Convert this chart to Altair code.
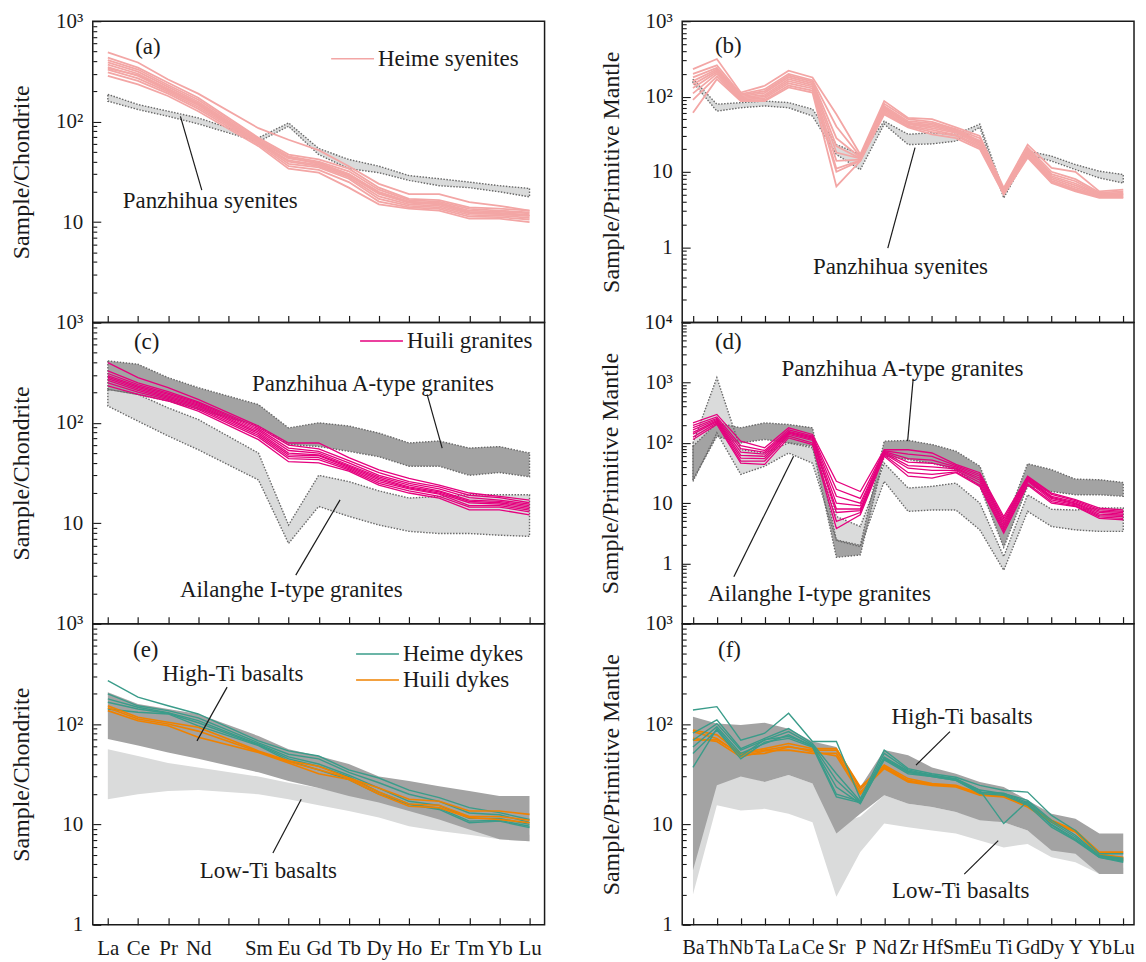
import altair as alt
import pandas as pd

FONT = "'Liberation Serif', 'Times New Roman', 'DejaVu Serif', serif"
INK = "#1a1a1a"

REE_AXIS = ["La", "Ce", "Pr", "Nd", "Pm", "Sm", "Eu", "Gd", "Tb", "Dy", "Ho", "Er", "Tm", "Yb", "Lu"]
REE = ["La", "Ce", "Pr", "Nd", "Sm", "Eu", "Gd", "Tb", "Dy", "Ho", "Er", "Tm", "Yb", "Lu"]
TE = ["Ba", "Th", "Nb", "Ta", "La", "Ce", "Sr", "P", "Nd", "Zr", "Hf", "Sm", "Eu", "Ti", "Gd", "Dy", "Y", "Yb", "Lu"]

PINK = "#F3A6A5"
MAGENTA = "#E5007E"
TEAL = "#3A9C8A"
ORANGE = "#EF8200"
DARK = "#A3A3A3"
LIGHT = "#DADBDB"

# ---------------- (a) chondrite-normalised, Heime syenites ----------------
A_HEIME = [
    [489, 388, 263, 190, 86, 66, 52, 36, 24, 19, 19, 15.8, 14.5, 13],
    [435, 345, 244, 173, 69, 47, 42, 34, 22, 17, 16.5, 14, 13.6, 13],
    [410, 330, 232, 165, 67, 45, 40, 32, 21, 16.5, 16, 13.5, 13, 12.5],
    [390, 315, 222, 158, 65, 43, 39, 30, 20, 16, 15.5, 13, 12.7, 12.2],
    [370, 300, 212, 152, 63, 41, 37, 29, 19, 15.5, 15, 12.6, 12.3, 11.8],
    [350, 285, 205, 146, 62, 40, 36, 28, 18, 15, 14.5, 12.2, 12, 11.5],
    [340, 290, 210, 150, 64, 44, 38, 30, 19.5, 15.8, 15.2, 12.5, 12, 11.5],
    [330, 270, 198, 140, 61, 38, 35, 27, 17, 14.5, 14, 11.8, 11.6, 11],
    [310, 255, 190, 134, 59, 36, 33, 25, 16, 14, 13.5, 11.3, 11.2, 10.6],
    [285, 235, 180, 127, 57, 34, 31, 22, 15, 13.6, 13, 10.8, 10.8, 10],
]
A_PZH_UP = [187, 148, 127, 109, 69, 97, 54, 42, 36, 29, 27, 25, 23, 21.6]
A_PZH_LO = [160, 132, 113, 95, 63, 90, 47, 34, 31, 26, 23, 22, 20, 17.8]

# ---------------- (b) primitive-mantle-normalised, Heime syenites ----------------
B_HEIME = [
    [231, 315, 113, 139, 220, 179, 58, 17, 87, 52, 50, 39, 30, 6.1, 23, 11.3, 10, 5.5, 5.8],
    [200, 260, 108, 125, 200, 165, 40, 16, 80, 50, 46, 37, 28, 5.8, 21, 10, 8, 5.3, 5.5],
    [180, 240, 104, 118, 190, 158, 28, 15.5, 75, 47, 44, 36, 26, 5.6, 20, 9.3, 7.5, 5.1, 5.3],
    [160, 230, 100, 112, 180, 150, 22, 15, 72, 45, 42, 35, 25, 5.5, 19, 8.8, 7, 5, 5.1],
    [145, 220, 97, 105, 170, 142, 18, 15, 70, 44, 40, 34, 24, 5.4, 18, 8.4, 6.6, 4.9, 5],
    [130, 210, 94, 100, 160, 135, 14, 14.5, 67, 43, 38, 33, 23, 5.3, 17, 8, 6.2, 4.8, 4.9],
    [110, 200, 91, 95, 150, 128, 11, 14.2, 64, 41, 36, 31, 22, 5.2, 16.5, 7.6, 5.9, 4.7, 4.7],
    [90, 185, 89, 90, 140, 120, 10, 14, 61, 40, 34, 30, 21, 5.1, 16, 7.3, 5.7, 4.6, 4.6],
    [61, 170, 87, 87, 132, 113, 6.4, 13.9, 58, 39, 31.5, 28, 20, 5, 15.4, 7.1, 5.5, 4.5, 4.5],
]
B_PZH_UP = [170, 79, 83, 87, 83, 68, 23, 17, 47, 31.5, 33, 31.5, 43, 5.5, 18.9, 16.2, 12.5, 10.2, 9.2]
B_PZH_LO = [154, 64, 71, 75, 71, 55, 17, 10.7, 43, 23, 23.5, 25.6, 39, 4.5, 17, 13.9, 10.7, 8.3, 7.1]

# ---------------- (c) Huili granites, chondrite ----------------
C_HUILI = [
    [398, 282, 224, 171, 93, 63, 63, 45, 34, 28, 24, 20, 18.5, 17],
    [330, 250, 205, 162, 90, 60, 55, 42, 32, 26, 23, 19, 18, 16],
    [310, 240, 198, 158, 87, 56, 52, 40, 30, 25, 22, 18, 17, 15.5],
    [295, 232, 192, 154, 84, 53, 50, 38, 29, 24, 21, 17, 16.5, 15],
    [285, 225, 186, 150, 81, 50, 48, 37, 28, 23, 20.5, 16.5, 16, 14.5],
    [275, 218, 180, 146, 78, 48, 47, 36, 27, 22.5, 20, 16, 15.5, 14],
    [265, 210, 175, 141, 75, 46, 45, 35, 26, 22, 19.5, 15, 15, 13.5],
    [250, 202, 170, 136, 72, 44, 43, 34, 25, 21, 18.5, 14.5, 14.5, 13],
    [233, 192, 165, 131, 68, 41, 40, 33, 24, 20, 17.8, 13.6, 13.6, 12.1],
]
C_PZA_UP = [414, 383, 282, 224, 152, 89, 100, 93, 79, 63, 66, 56, 58, 50]
C_PZA_LO = [215, 192, 165, 136, 93, 61, 58, 52, 46, 37, 37, 30, 32, 29]
C_AIL_UP = [215, 192, 141, 108, 50, 9.6, 30, 26, 21, 17.8, 18.5, 19.2, 19.2, 19.2]
C_AIL_LO = [147, 104, 74, 54, 27, 6.3, 14.7, 11.7, 9.6, 8.3, 7.9, 7.9, 7.6, 7.4]

# ---------------- (d) Huili granites, primitive mantle ----------------
D_HUILI = [
    [215, 297, 107, 83, 178, 138, 23, 15.6, 77, 77, 68, 44, 32, 6, 28, 14.7, 11.4, 8.3, 7.7],
    [195, 270, 90, 75, 165, 130, 17, 12, 74, 65, 60, 42, 30, 5.5, 27, 14, 11, 7.8, 7.3],
    [180, 255, 80, 70, 155, 125, 13, 10, 72, 55, 52, 40, 28, 5, 26, 13, 10.5, 7.4, 7],
    [165, 245, 70, 65, 150, 120, 10, 9, 70, 48, 46, 38, 26, 4.6, 25, 12.5, 10, 7, 6.6],
    [150, 235, 62, 60, 145, 115, 8, 8, 68, 42, 40, 37, 24, 4.2, 24, 12, 9.7, 6.6, 6.3],
    [140, 225, 56, 55, 138, 110, 7, 7.5, 66, 38, 35, 35, 22, 3.8, 23, 11.3, 9.4, 6.2, 6],
    [125, 215, 50, 50, 130, 100, 5, 7, 63, 32, 30, 33, 20, 3.5, 21, 10.6, 9, 5.9, 5.6],
    [114, 202, 46, 44, 121, 94, 3.8, 6.4, 60, 28, 26, 32, 19, 3.2, 20, 10, 8.8, 5.6, 5.3],
]
D_PZA_UP = [88, 215, 178, 215, 202, 178, 2.45, 2.0, 107, 110, 94, 73, 41, 4.1, 45, 36, 25, 24.5, 22]
D_PZA_LO = [24.5, 129, 100, 114, 100, 88, 1.26, 1.38, 60, 53, 46, 36, 19, 1.85, 19, 15.6, 13.8, 13.8, 13]
D_AIL_UP = [100, 1212, 77, 68, 100, 83, 6, 4.1, 46, 17.8, 19, 21.5, 10, 1.3, 13.8, 7.9, 7.7, 8.3, 8.3]
D_AIL_LO = [23, 147, 30, 41, 68, 46, 2.4, 1.9, 23, 7.3, 7.7, 7.7, 3.6, 0.77, 7.3, 4.1, 3.6, 3.4, 3.4]

# ---------------- (e) dykes, chondrite ----------------
E_HEIME = [
    [271, 185, 152, 126, 68, 54, 48, 35, 29, 22, 18.5, 14.7, 13.1, 11.2],
    [200, 152, 136, 115, 65, 50, 45, 33, 26, 20, 17, 13, 12.5, 10.5],
    [178, 147, 130, 108, 63, 47, 40, 31, 23, 17, 15.5, 11.5, 11.5, 10],
    [165, 141, 128, 103, 62, 45, 38, 30, 21, 16, 14.5, 10.8, 11, 9.6],
    [141, 131, 126, 96, 61, 43, 35, 28, 20, 15.8, 14.1, 10.4, 10.8, 9.3],
]
E_HUILI = [
    [152, 117, 104, 93, 54, 43, 38, 29, 23, 17.8, 17, 13.6, 13.6, 12.6],
    [145, 112, 100, 85, 53, 42, 35, 29, 21, 16, 15.5, 12, 12, 11],
    [136, 108, 96, 74, 52, 41, 32, 28, 20, 15.2, 14.7, 11.7, 11.2, 10.4],
]
E_HIGH_UP = [207, 158, 141, 126, 76, 56, 48, 40, 30, 27, 24, 21.5, 19.2, 19.2]
E_HIGH_LO = [71, 61, 52, 45, 33, 27, 23, 19.2, 16.5, 13.6, 11.2, 8.9, 7.1, 6.8]
E_LOW_UP = [56, 48, 41, 37, 30, 26, 23, 20, 17, 14.7, 12.1, 10.4, 8.3, 7.9]
E_LOW_LO = [17.8, 20, 21.5, 22, 20, 17.8, 15.5, 13.6, 11.7, 9.6, 8.6, 7.9, 7.1, 6.8]

# ---------------- (f) dykes, primitive mantle ----------------
F_HEIME = [
    [138, 149, 69, 81, 128, 67, 67, 18, 55, 36, 32, 29.5, 24.5, 21.9, 21, 12.3, 8.7, 5.1, 5.1],
    [81, 110, 57, 72, 90, 64, 32, 17, 51, 35, 31, 28.5, 22, 20.3, 17.4, 11, 7.8, 4.9, 4.6],
    [69, 101, 55, 69, 84, 62, 27.5, 16.5, 47, 34, 30.5, 28, 21.9, 10.2, 17, 10.5, 7.5, 4.8, 4.5],
    [59, 94, 51, 64, 78, 60, 23.6, 16.1, 45, 33, 30, 27.5, 21, 20, 16, 10, 7.2, 4.7, 4.3],
    [51, 87, 45, 66, 72, 59, 18.8, 16.5, 44, 32, 30, 27.5, 20.3, 19.5, 15.5, 9.4, 6.9, 4.7, 4.2],
    [37, 90, 48, 70, 75, 61, 20, 17, 46, 33.5, 31, 28, 21, 20.5, 16.5, 9.8, 7, 4.8, 4.4],
]
F_HUILI = [
    [87, 78, 51, 57, 64, 57, 57, 23.6, 39, 28.6, 25.5, 24.5, 20.3, 19.5, 15.5, 11, 8.7, 5.3, 5.3],
    [84, 72, 49, 51, 59, 55, 55, 22.6, 37, 27, 25, 24, 20, 19, 15.2, 10.7, 8.5, 5, 4.7],
    [72, 67, 47, 54, 55, 51, 51, 21, 36, 26.5, 24.5, 23.6, 19.5, 18.8, 14.9, 10.5, 8.4, 4.9, 4.4],
    [69, 70, 50, 55, 60, 53, 48, 20, 38, 27.5, 25, 24, 19.8, 19.2, 15.3, 10.8, 8.6, 5.1, 4.6],
]
F_HIGH_UP = [118, 101, 98, 103, 90, 67, 59, 23.6, 55, 49, 37, 32, 26.5, 23.6, 17.4, 12.8, 11.4, 8.1, 8.1]
F_HIGH_LO = [3.5, 24.5, 30, 26.5, 31, 25.5, 8.1, 12.8, 19.5, 16.1, 14.9, 13.3, 11, 10.5, 8.7, 5.5, 5.1, 3.2, 3.2]
F_LOW_UP = [27, 25.5, 31, 26.5, 31, 25.5, 10, 12, 19.5, 16.1, 14.9, 13.3, 11.4, 10.5, 8.7, 5.9, 5.6, 3.7, 3.7]
F_LOW_LO = [2.0, 15.5, 13.8, 14.3, 12.8, 10.5, 1.9, 5.3, 10.2, 9.4, 8.7, 8.1, 6.9, 5.9, 6.4, 4.7, 4.2, 3.2, 3.2]

# annotations: (text, x position on element axis, y value)
A_TEXT = [("(a)", 1.33, 548), ("Panzhihua syenites", 3.4, 16.1)]
A_LEAD = [(3.12, 20.8, 2.41, 113)]
B_TEXT = [("(b)", 1.48, 474), ("Panzhihua syenites", 8.68, 0.55)]
B_LEAD = [(8.15, 0.97, 9.29, 21)]
C_TEXT = [("(c)", 1.29, 631), ("Panzhihua  A-type granites", 8.8, 242), ("Ailanghe I-type granites", 6.09, 2.15)]
C_LEAD = [(10.6, 192, 11.1, 56), (6.24, 3.04, 7.71, 17.1)]
D_TEXT = [("(d)", 1.48, 4642), ("Panzhihua A-type granites", 8.76, 1668), ("Ailanghe I-type granites", 5.29, 0.316)]
D_LEAD = [(9.21, 1136, 8.98, 107), (1.71, 0.6, 4.21, 60)]
E_TEXT = [("(e)", 1.26, 541), ("High-Ti basalts", 4.15, 316), ("Low-Ti basalts", 5.33, 3.4)]
E_LEAD = [(3.96, 233, 2.96, 68), (5.48, 5.2, 6.42, 17.8)]
F_TEXT = [("(f)", 1.53, 550), ("High-Ti basalts", 11.26, 118), ("Low-Ti basalts", 11.2, 2.19)]
F_LEAD = [(10.75, 84, 9.33, 39), (11.35, 3.2, 12.77, 6.9)]

SUP = {10000: "10\u2074", 1000: "10\u00b3", 100: "10\u00b2", 10: "10", 1: "1"}


def line_df(groups, elems, axis):
    rows = []
    for gname, samples in groups:
        for i, s in enumerate(samples):
            for el, v in zip(elems, s):
                rows.append({"x": axis.index(el), "v": v, "sample": f"{gname}-{i}", "group": gname})
    return pd.DataFrame(rows)


def band_df(up, lo, elems, axis):
    return pd.DataFrame({"x": [axis.index(e) for e in elems], "hi": up, "lo": lo})


def outline_df(up, lo, elems, axis):
    xs = [axis.index(e) for e in elems]
    pts = list(zip(xs, up)) + list(zip(xs[::-1], lo[::-1])) + [(xs[0], up[0])]
    return pd.DataFrame({"x": [p[0] for p in pts], "v": [p[1] for p in pts], "o": list(range(len(pts)))})


def panel(axis, elems, bands, groups, colors, widths, texts, leads, ydom, labels, ytitle,
          show_x, width, height, legend_xy):
    n = len(axis)
    pad = 0.5 if n == 15 else 0.45
    xscale = alt.Scale(domain=[-pad, n - 1 + pad], nice=False, zero=False)
    names = "[" + ",".join("'" + (a if a != "Pm" else "") + "'" for a in axis) + "]"
    xaxis = alt.Axis(values=list(range(n)), labelExpr=f"{names}[datum.value]", labels=show_x,
                     title=None, grid=False, domain=False, tickSize=alt.ExprRef("-7"),
                     tickColor=INK, tickWidth=1.2, labelFont=FONT,
                     labelFontSize=21 if n == 15 else 20, labelColor=INK,
                     labelPadding=20, labelOverlap=False, labelFlush=False, labelBound=False)
    lo_e, hi_e = ydom
    vals = [m * 10 ** d for d in range(lo_e, hi_e) for m in range(1, 10)] + [10 ** hi_e]
    lab = " : ".join(f"datum.value == {k} ? '{SUP[k]}'" for k in labels) + " : ''"
    dec = "abs(log(datum.value)/LN10 - round(log(datum.value)/LN10)) < 0.001"
    yaxis = alt.Axis(values=vals, labelExpr=lab, title=ytitle, grid=False, domain=False,
                     tickSize={"condition": {"test": dec, "value": -8}, "value": -4},
                     tickColor=INK, tickWidth=1.1, labelFont=FONT, labelFontSize=21, labelColor=INK,
                     labelPadding=18, labelOverlap=False, labelFlush=False,
                     titleFont=FONT, titleFontSize=24, titleFontWeight="normal", titleColor=INK,
                     titlePadding=22)
    yscale = alt.Scale(type="log", domain=[10 ** lo_e, 10 ** hi_e], nice=False)
    X = lambda f="x": alt.X(f"{f}:Q", scale=xscale, axis=xaxis)
    Y = lambda f: alt.Y(f"{f}:Q", scale=yscale, axis=yaxis)

    layers = []
    for up, lo, fill, dotted in bands:
        layers.append(alt.Chart(band_df(up, lo, elems, axis)).mark_area(color=fill, opacity=1)
                      .encode(x=X(), y=Y("hi"), y2="lo:Q"))
    for up, lo, fill, dotted in bands:
        if dotted:
            layers.append(alt.Chart(outline_df(up, lo, elems, axis))
                          .mark_line(color="#6a6a6a", strokeDash=[1.5, 1.5], strokeWidth=1.4)
                          .encode(x=X(), y=Y("v"), order="o:Q"))
    ldf = line_df(groups, elems, axis)
    gnames = [g[0] for g in groups]
    if legend_xy is None:
        legend = None
    else:
        legend = alt.Legend(orient="none", legendX=legend_xy[0], legendY=legend_xy[1], title=None,
                            symbolType="M-2,0H2", symbolSize=462, symbolStrokeWidth=1.5,
                            labelFont=FONT, labelFontSize=23, labelColor=INK, labelOffset=14,
                            rowPadding=2)
    for gname, sw in zip(gnames, widths):
        layers.append(alt.Chart(ldf[ldf.group == gname]).mark_line(strokeWidth=sw)
                      .encode(x=X(), y=Y("v"), detail="sample:N",
                              color=alt.Color("group:N", scale=alt.Scale(domain=gnames, range=colors),
                                              legend=legend)))
    lead = pd.DataFrame(leads, columns=["x", "y", "x2", "y2"])
    layers.append(alt.Chart(lead).mark_rule(color=INK, strokeWidth=1.2)
                  .encode(x=X(), y=Y("y"), x2="x2:Q", y2="y2:Q"))
    tdf = pd.DataFrame(texts, columns=["t", "x", "y"])
    layers.append(alt.Chart(tdf).mark_text(font=FONT, fontSize=23, color=INK)
                  .encode(x=X(), y=Y("y"), text="t:N"))
    return alt.layer(*layers).properties(width=width, height=height)


W, H = 453, 302

pa = panel(REE_AXIS, REE, [(A_PZH_UP, A_PZH_LO, LIGHT, True)], [("Heime syenites", A_HEIME)],
           [PINK], [1.8], A_TEXT, A_LEAD, (0, 3), [1000, 100, 10], "Sample/Chondrite", False, W, H,
           (249, 26))
pc = panel(REE_AXIS, REE, [(C_AIL_UP, C_AIL_LO, LIGHT, True), (C_PZA_UP, C_PZA_LO, DARK, True)],
           [("Huili granites", C_HUILI)], [MAGENTA], [1.3], C_TEXT, C_LEAD, (0, 3), [1000, 100, 10],
           "Sample/Chondrite", False, W, H, (278, 7))
pe = panel(REE_AXIS, REE, [(E_LOW_UP, E_LOW_LO, LIGHT, False), (E_HIGH_UP, E_HIGH_LO, DARK, False)],
           [("Heime dykes", E_HEIME), ("Huili dykes", E_HUILI)], [TEAL, ORANGE], [1.4, 1.6],
           E_TEXT, E_LEAD, (0, 3), [1000, 100, 10, 1], "Sample/Chondrite", True, W, H, (274, 19))

pb = panel(TE, TE, [(B_PZH_UP, B_PZH_LO, LIGHT, True)], [("Heime syenites", B_HEIME)],
           [PINK], [1.8], B_TEXT, B_LEAD, (-1, 3), [1000, 100, 10, 1], "Sample/Primitive Mantle",
           False, W, H, None)
pd_ = panel(TE, TE, [(D_AIL_UP, D_AIL_LO, LIGHT, True), (D_PZA_UP, D_PZA_LO, DARK, True)],
            [("Huili granites", D_HUILI)], [MAGENTA], [1.3], D_TEXT, D_LEAD, (-1, 4),
            [10000, 1000, 100, 10, 1], "Sample/Primitive Mantle", False, W, H, None)
pf = panel(TE, TE, [(F_LOW_UP, F_LOW_LO, LIGHT, False), (F_HIGH_UP, F_HIGH_LO, DARK, False)],
           [("Huili dykes", F_HUILI), ("Heime dykes", F_HEIME)], [ORANGE, TEAL], [1.6, 1.4],
           F_TEXT, F_LEAD, (0, 3), [1000, 100, 10, 1], "Sample/Primitive Mantle", True, W, H, None)

chart = (alt.concat(pa, pb, pc, pd_, pe, pf, columns=2, spacing={"row": 0, "column": 138},
                    bounds="flush")
         .resolve_scale(color="independent")
         .properties(padding={"left": 0, "top": 0, "right": 2, "bottom": 2})
         .configure(font=FONT)
         .configure_view(stroke=INK, strokeWidth=1.5))

chart.save("out.html", embed_options={"renderer": "svg", "actions": False})
